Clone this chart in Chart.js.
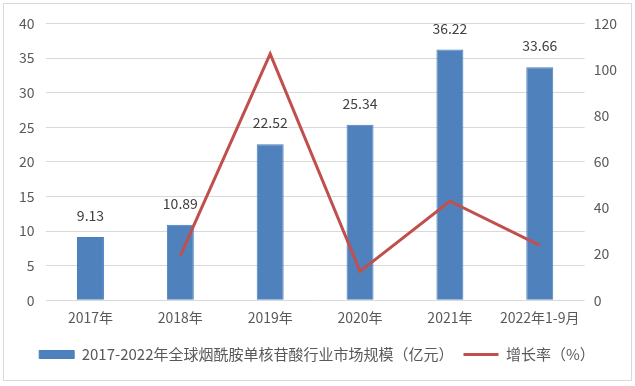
<!DOCTYPE html>
<html>
<head>
<meta charset="utf-8">
<script src="https://cdn.jsdelivr.net/npm/chart.js@4"></script>
<style>
    body { margin: 0; background: #fff; }
    #box { position: absolute; left: 3px; top: 3px; width: 627px; height: 376px; border: 1px solid #d9d9d9; }
</style>
</head>
<body>
<div id="box"><canvas id="chart"></canvas></div>
<script>
const categories = ['2017年', '2018年', '2019年', '2020年', '2021年', '2022年1-9月'];
const marketSize = [9.13, 10.89, 22.52, 25.34, 36.22, 33.66];
const growthRate = [null, 19.3, 106.8, 12.5, 42.9, 23.8];

const barLabelName = '2017-2022年全球烟酰胺单核苷酸行业市场规模（亿元）';
const lineLabelName = '增长率（%）';

const textColor = '#595959';
const font = { family: '"Noto Sans CJK SC", "Noto Sans", sans-serif', size: 14 };

// values above the bars
const barLabels = {
    id: 'barLabels',
    afterDatasetsDraw(chart) {
        const ctx = chart.ctx;
        const meta = chart.getDatasetMeta(0);
        ctx.save();
        ctx.font = '14px ' + font.family;
        ctx.fillStyle = '#404040';
        ctx.textAlign = 'center';
        ctx.textBaseline = 'alphabetic';
        meta.data.forEach((bar, i) => {
            ctx.fillText(marketSize[i].toFixed(2), bar.x, bar.y - 16);
        });
        ctx.restore();
    }
};

new Chart(document.getElementById('chart'), {
    type: 'bar',
    data: {
        labels: categories,
        datasets: [{
            label: barLabelName,
            data: marketSize,
            backgroundColor: '#4f81bd',
            borderColor: '#4a7ebb',
            borderWidth: 1,
            barPercentage: 0.6,
            categoryPercentage: 0.5,
            pointStyle: 'rect',
            yAxisID: 'y',
            order: 2
        }, {
            type: 'line',
            label: lineLabelName,
            data: growthRate,
            borderColor: '#c0504d',
            backgroundColor: '#c0504d',
            borderWidth: 3,
            pointRadius: 0,
            pointStyle: 'line',
            tension: 0,
            yAxisID: 'y1',
            order: 1
        }]
    },
    options: {
        responsive: true,
        maintainAspectRatio: false,
        animation: false,
        layout: { padding: { left: 4, right: 5, top: 12, bottom: 8 } },
        plugins: {
            legend: {
                position: 'bottom',
                labels: {
                    color: textColor,
                    font: { family: font.family, size: 15 },
                    usePointStyle: true,
                    pointStyleWidth: 35,
                    boxHeight: 8,
                    padding: 10,
                    sort: (a, b) => a.datasetIndex - b.datasetIndex
                }
            },
            tooltip: { enabled: false }
        },
        scales: {
            x: {
                grid: { display: false },
                border: { display: false },
                ticks: { color: textColor, font: font, padding: 1 },
                afterFit: (scale) => { scale.height += 10; }
            },
            y: {
                position: 'left',
                min: 0,
                max: 40,
                ticks: { stepSize: 5, color: textColor, font: font, padding: 11 },
                grid: { color: '#d9d9d9', lineWidth: 1, drawTicks: false },
                border: { display: false }
            },
            y1: {
                position: 'right',
                min: 0,
                max: 120,
                ticks: { stepSize: 20, color: textColor, font: font, padding: 9 },
                grid: { display: false, drawTicks: false },
                border: { display: false }
            }
        }
    },
    plugins: [barLabels]
});
</script>
</body>
</html>
